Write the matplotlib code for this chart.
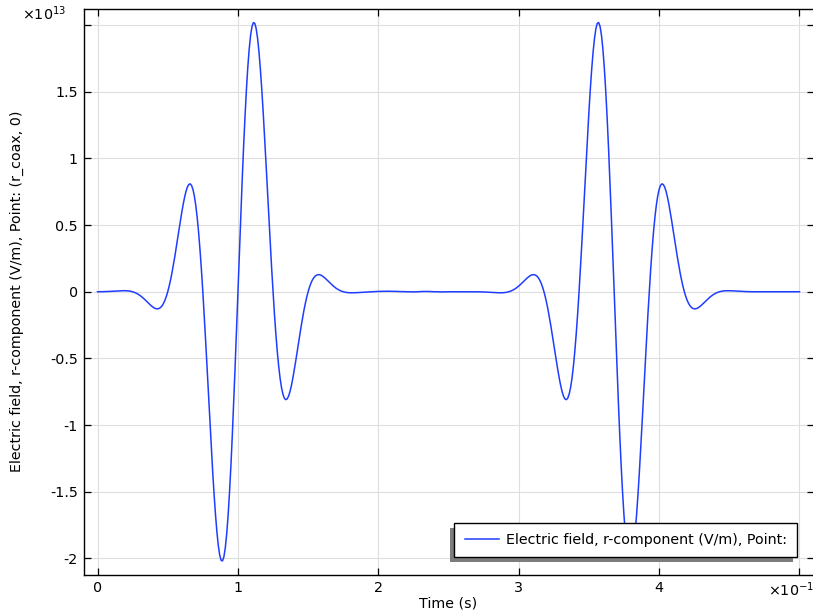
import numpy as np
import matplotlib
matplotlib.use("Agg")
import matplotlib.pyplot as plt
from matplotlib.patches import Rectangle
from matplotlib.transforms import IdentityTransform

# time in units of 1e-10 s, field in units of 1e13 V/m
# coarse samples every 0.02 over the whole run
t_start, t_end = 0.0, 5.0
e_field = [
    # t = 0.00 .. 0.98
    0, 0, 0.0005, 0.0012, 0.0022, 0.0032, 0.0045, 0.0058, 0.0071, 0.0078,
    0.0078, 0.0063, 0.0027, -0.0035, -0.0129, -0.0259, -0.0424, -0.0618, -0.0827, -0.1029,
    -0.1193, -0.1280, -0.1246, -0.1047, -0.0641, 0, 0.0884, 0.1992, 0.3271, 0.4633,
    0.5954, 0.7082, 0.7852, 0.8094, 0.7664, 0.6460, 0.4441, 0.1649, -0.1787, -0.5652,
    -0.9656, -1.3456, -1.6689, -1.9014, -2.0142, -1.9887, -1.8172, -1.5068, -1.0778, -0.5617,
    # t = 1.00 .. 1.98
    0, 0.5617, 1.0778, 1.5068, 1.8172, 1.9887, 2.0142, 1.9014, 1.6689, 1.3456,
    0.9656, 0.5652, 0.1787, -0.1649, -0.4441, -0.6460, -0.7664, -0.8094, -0.7852, -0.7082,
    -0.5954, -0.4633, -0.3271, -0.1992, -0.0884, 0, 0.0641, 0.1047, 0.1246, 0.1280,
    0.1193, 0.1029, 0.0827, 0.0618, 0.0424, 0.0259, 0.0129, 0.0035, -0.0027, -0.0063,
    -0.0078, -0.0078, -0.0071, -0.0058, -0.0045, -0.0032, -0.0022, -0.0012, 0.0005, 0.0015,
    # t = 2.00 .. 2.98
    0.0025, 0.003, 0.004, 0.004, 0.004, 0.003, 0.003, 0.002, 0.001, 0.001,
    0, 0, -0.001, -0.001, 0, 0.001, 0.002, 0.002, 0.002, 0.001,
    0, 0, -0.001, -0.001, -0.001, 0, 0, 0, 0, 0,
    0, 0, 0, 0, 0, 0, -0.0005, -0.0012, -0.0022, -0.0032,
    -0.0045, -0.0058, -0.0071, -0.0078, -0.0078, -0.0063, -0.0027, 0.0035, 0.0129, 0.0259,
    # t = 3.00 .. 3.98
    0.0424, 0.0618, 0.0827, 0.1029, 0.1193, 0.1280, 0.1246, 0.1047, 0.0641, 0,
    -0.0884, -0.1992, -0.3271, -0.4633, -0.5954, -0.7082, -0.7852, -0.8094, -0.7664, -0.6460,
    -0.4441, -0.1649, 0.1787, 0.5652, 0.9656, 1.3456, 1.6689, 1.9014, 2.0142, 1.9887,
    1.8172, 1.5068, 1.0778, 0.5617, 0, -0.5617, -1.0778, -1.5068, -1.8172, -1.9887,
    -2.0142, -1.9014, -1.6689, -1.3456, -0.9656, -0.5652, -0.1787, 0.1649, 0.4441, 0.6460,
    # t = 4.00 .. 5.00
    0.7664, 0.8094, 0.7852, 0.7082, 0.5954, 0.4633, 0.3271, 0.1992, 0.0884, 0,
    -0.0641, -0.1047, -0.1246, -0.1280, -0.1193, -0.1029, -0.0827, -0.0618, -0.0424, -0.0259,
    -0.0129, -0.0035, 0.0027, 0.0063, 0.0078, 0.0078, 0.0071, 0.0058, 0.0045, 0.0032,
    0.0022, 0.0012, 0.0005, 0, 0, 0, 0, 0, 0, 0,
    0, 0, 0, 0, 0, 0, 0, 0, 0, 0,
    0,
]

# extra samples in between (odd hundredths) where the pulses swing hard
pulse1_t0, pulse1_t1 = 0.41, 1.59
pulse1_field = [
    -0.1248, -0.1281, -0.1170, -0.0872, -0.0351, 0.0412, 0.1412, 0.2615, 0.3948, 0.5308,
    0.6553, 0.7523, 0.8048, 0.7971, 0.7163, 0.5552, 0.3136, 0, -0.3683, -0.7658,
    -1.1604, -1.5166, -1.7985, -1.9742, -2.0195, -1.9211, -1.6785, -1.3054, -0.8281, -0.2838,
    0.2838, 0.8281, 1.3054, 1.6785, 1.9211, 2.0195, 1.9742, 1.7985, 1.5166, 1.1604,
    0.7658, 0.3683, 0, -0.3136, -0.5552, -0.7163, -0.7971, -0.8048, -0.7523, -0.6553,
    -0.5308, -0.3948, -0.2615, -0.1412, -0.0412, 0.0351, 0.0872, 0.1170, 0.1281, 0.1248,
]
pulse2_t0, pulse2_t1 = 3.09, 4.27
pulse2_field = [
    0.1248, 0.1281, 0.1170, 0.0872, 0.0351, -0.0412, -0.1412, -0.2615, -0.3948, -0.5308,
    -0.6553, -0.7523, -0.8048, -0.7971, -0.7163, -0.5552, -0.3136, 0, 0.3683, 0.7658,
    1.1604, 1.5166, 1.7985, 1.9742, 2.0195, 1.9211, 1.6785, 1.3054, 0.8281, 0.2838,
    -0.2838, -0.8281, -1.3054, -1.6785, -1.9211, -2.0195, -1.9742, -1.7985, -1.5166, -1.1604,
    -0.7658, -0.3683, 0, 0.3136, 0.5552, 0.7163, 0.7971, 0.8048, 0.7523, 0.6553,
    0.5308, 0.3948, 0.2615, 0.1412, 0.0412, -0.0351, -0.0872, -0.1170, -0.1281, -0.1248,
]

x_ticks = [0, 1, 2, 3, 4, 5]
x_tick_labels = ["0", "1", "2", "3", "4", ""]
y_ticks = [-2, -1.5, -1, -0.5, 0, 0.5, 1, 1.5, 2]
y_tick_labels = ["-2", "-1.5", "-1", "-0.5", "0", "0.5", "1", "1.5", ""]

line_color = "#1f3dff"
legend_label = "Electric field, r-component (V/m), Point:"

# merge coarse + fine samples into one time-ordered series
t_all = np.concatenate([np.linspace(t_start, t_end, len(e_field)),
                        np.linspace(pulse1_t0, pulse1_t1, len(pulse1_field)),
                        np.linspace(pulse2_t0, pulse2_t1, len(pulse2_field))])
v_all = np.concatenate([e_field, pulse1_field, pulse2_field])
order = np.argsort(t_all, kind="stable")
time, field = t_all[order], v_all[order]

FS = 10.3
W, H = 813, 612
fig = plt.figure(figsize=(W / 100, H / 100), dpi=100)
ax = fig.add_axes([83.5 / W, 1 - 575 / H, (813.5 - 83.5) / W, (575 - 8.5) / H])

ax.plot(time, field, color=line_color, lw=1.1, label=legend_label)

ax.set_xlim(-0.1, 5.1)
ax.set_ylim(-2.125, 2.125)
ax.set_xticks(x_ticks)
ax.set_xticklabels(x_tick_labels)
ax.set_yticks(y_ticks)
ax.set_yticklabels(y_tick_labels)
ax.grid(True, color="#dedede", lw=0.8)
ax.set_axisbelow(True)
ax.tick_params(direction="in", length=5, width=0.9, top=True, right=True,
               labelsize=FS, color="black")
ax.tick_params(axis="x", pad=4.5)
ax.tick_params(axis="y", pad=4)
for sp in ax.spines.values():
    sp.set_linewidth(1.0)
    sp.set_color("black")

ax.set_xlabel("Time (s)", fontsize=FS, labelpad=1)
ax.set_ylabel("Electric field, r-component (V/m), Point: (r_coax, 0)", fontsize=FS)
ax.yaxis.set_label_coords(-(83.5 - 24) / (813.5 - 83.5), 0.5)

# multipliers, COMSOL style
fig.text(22 / W, 1 - 14 / H, "×10$^{13}$", fontsize=FS, va="center", ha="left")
fig.text(768 / W, 1 - 590 / H, "×10$^{-10}$", fontsize=FS, va="center", ha="left")

leg = ax.legend(loc="lower right",
                bbox_to_anchor=((797 - 83.5) / (813.5 - 83.5), (575 - 557) / (575 - 8.5)),
                fancybox=False, framealpha=1, edgecolor="black", fontsize=FS,
                handlelength=2.4, handletextpad=0.5, borderpad=0.7, borderaxespad=0)
leg.get_frame().set_linewidth(1.0)

fig.canvas.draw()
bb = leg.get_window_extent()
shadow = Rectangle((bb.x0 - 4, bb.y0 - 5), bb.width, bb.height, transform=IdentityTransform(),
                   facecolor="#7d7d7d", edgecolor="none", zorder=4.9)
ax.add_artist(shadow)

fig.savefig("out.png", dpi=100)
